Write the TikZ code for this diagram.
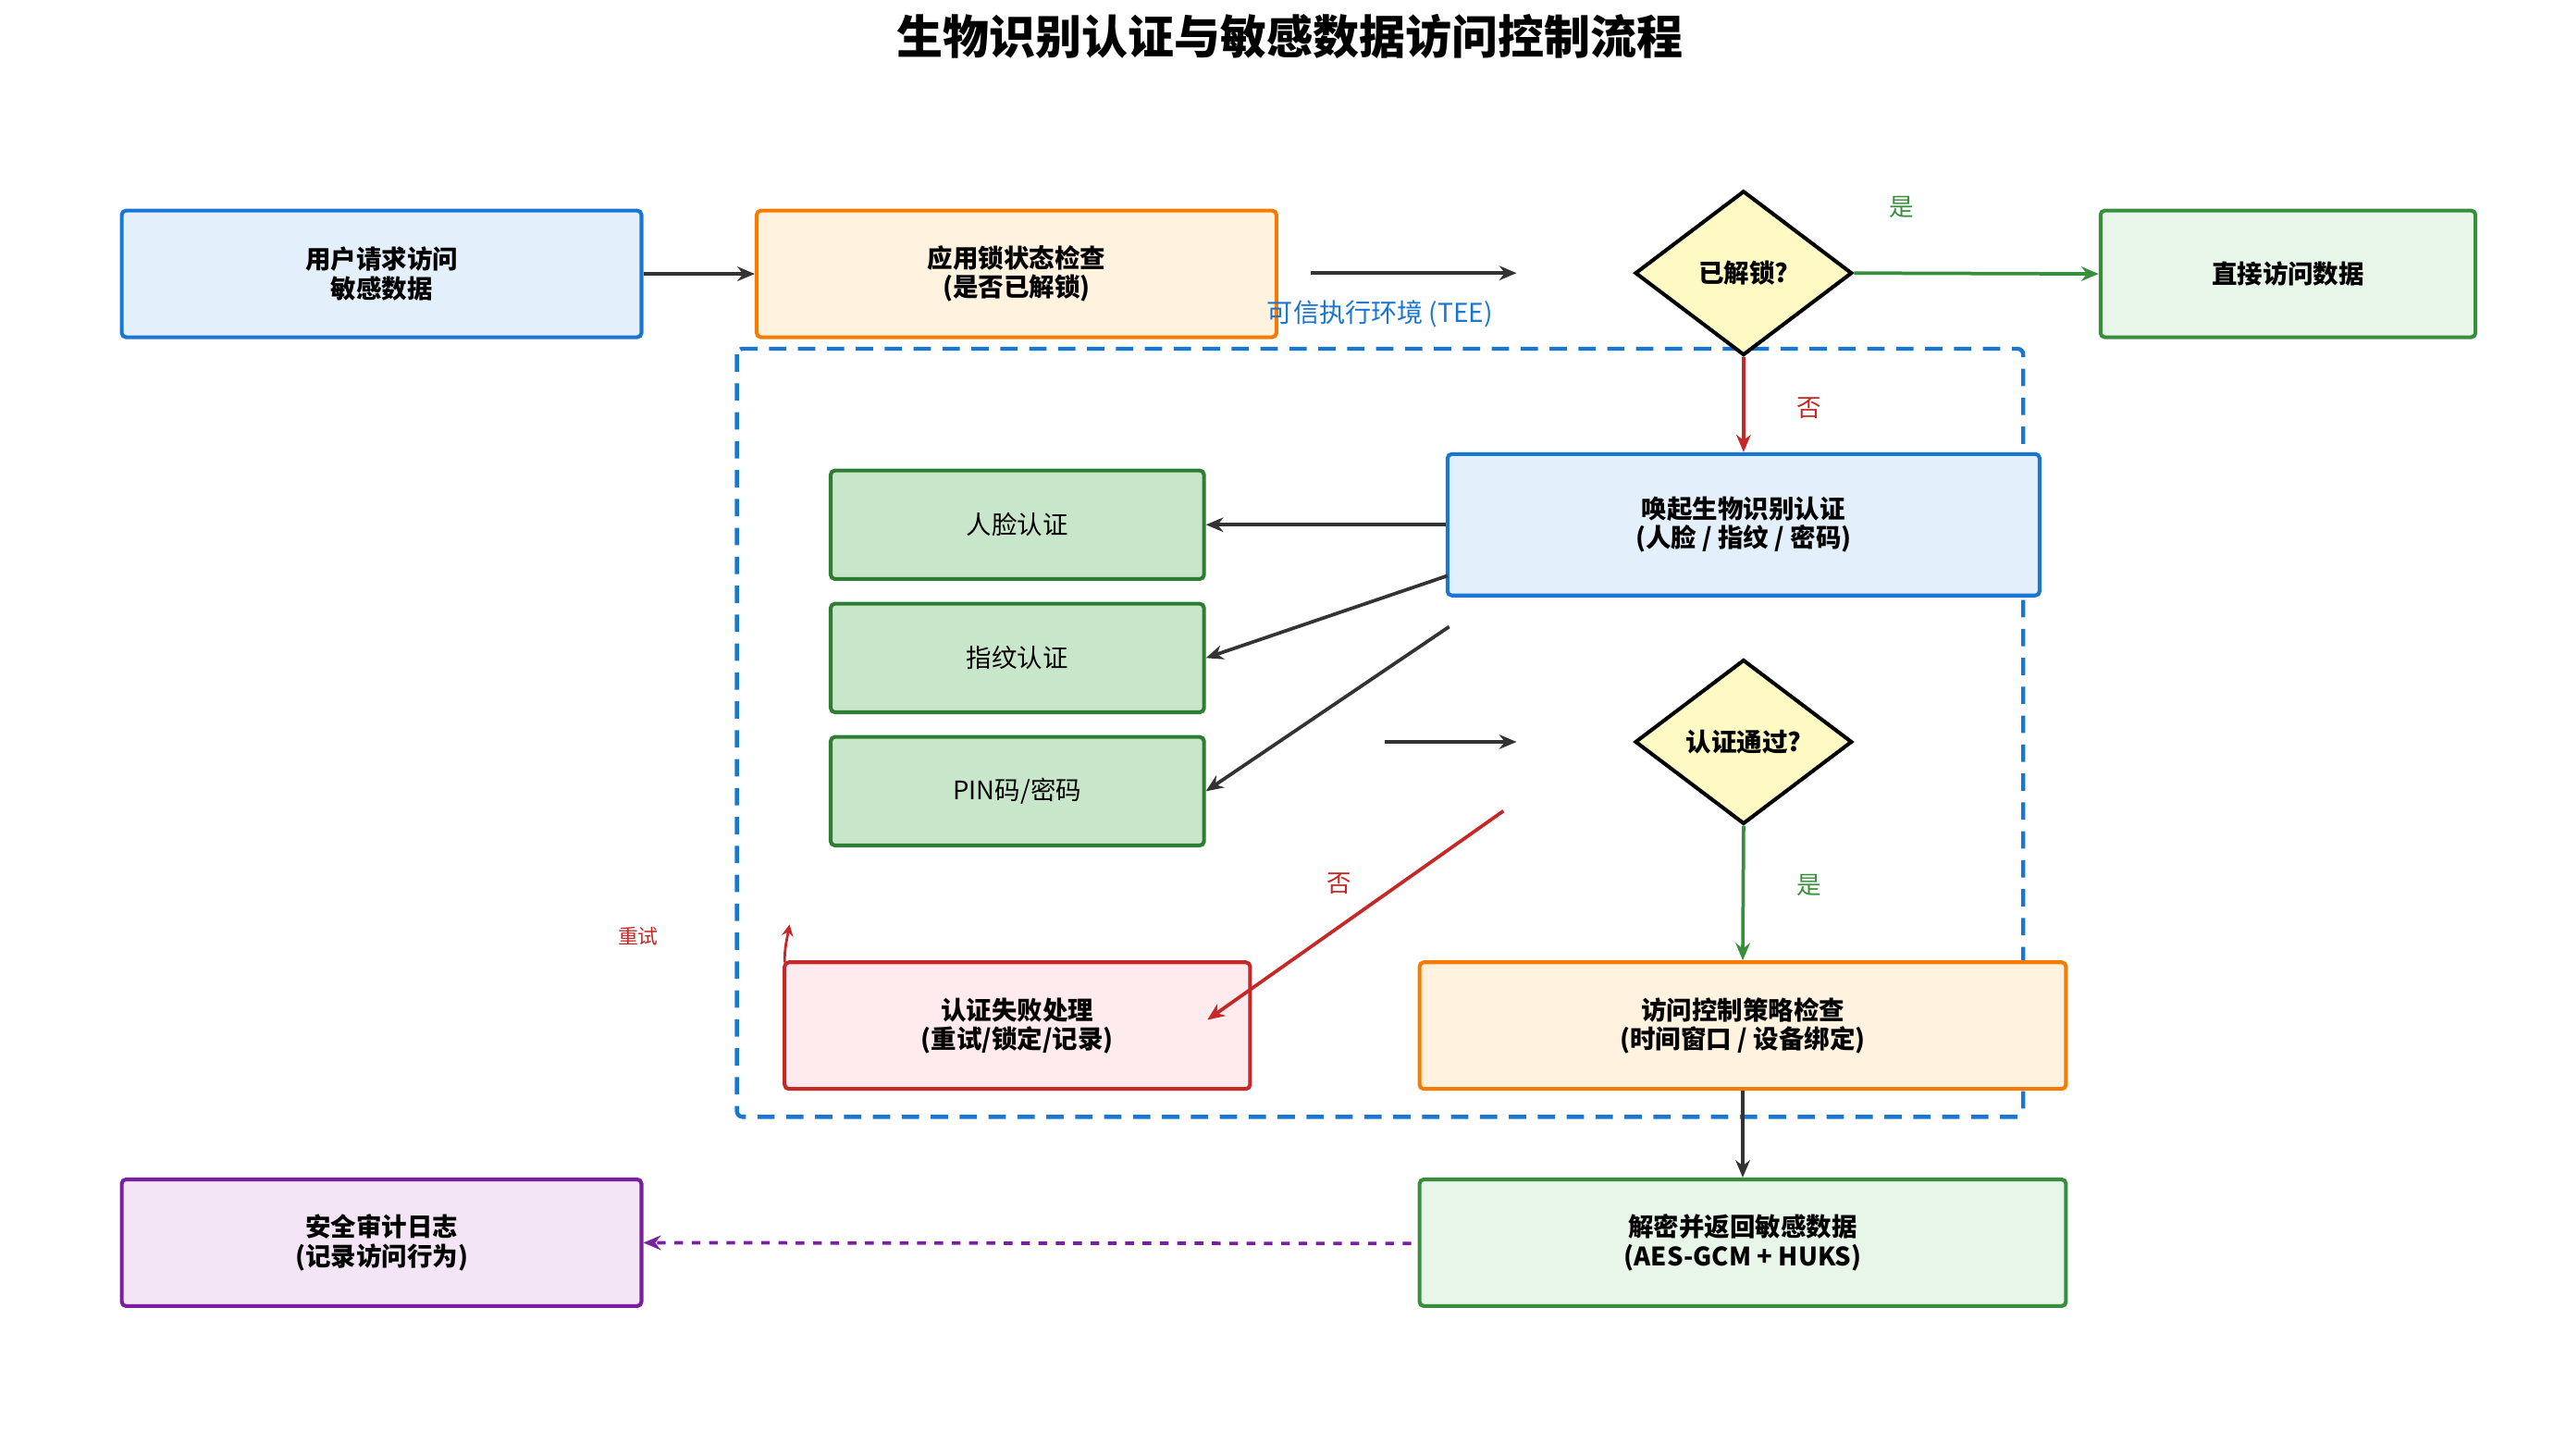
\documentclass[tikz,border=0pt]{standalone}
\usepackage{fontspec}
\setmainfont{Noto Sans CJK SC}
\usetikzlibrary{arrows.meta,shapes.geometric}
\definecolor{cblue}{HTML}{1976D2}\definecolor{fblue}{HTML}{E3F0FB}
\definecolor{corange}{HTML}{F57C00}\definecolor{forange}{HTML}{FFF3E0}
\definecolor{cgreen}{HTML}{388E3C}\definecolor{fgreen}{HTML}{E8F5E9}
\definecolor{cdg}{HTML}{2E7D32}\definecolor{fdg}{HTML}{C8E6C9}
\definecolor{cred}{HTML}{C62828}\definecolor{fred}{HTML}{FFEBEE}
\definecolor{cpur}{HTML}{7B1FA2}\definecolor{fpur}{HTML}{F3E5F5}
\definecolor{fyel}{HTML}{FFF9C4}\definecolor{cdark}{HTML}{333333}
\tikzset{
 bx/.style={draw,line width=1.3pt,rounded corners=1.5pt,align=center,font=\fontsize{8.8}{10}\selectfont\bfseries,inner sep=0pt},
 dm/.style={diamond,draw=black,fill=fyel,line width=1.3pt,aspect=1.32,minimum width=2.64cm,minimum height=2cm,inner sep=0pt,font=\fontsize{8.8}{10}\selectfont\bfseries},
 ar/.style={-{Stealth[length=6pt,width=5pt]},line width=1.2pt,draw=cdark},
 lb/.style={font=\fontsize{8.5}{10}\selectfont},
}
\begin{document}
\begin{tikzpicture}[x=0.02cm,y=-0.02cm]
\useasboundingbox (0,0) rectangle (1560,884.6);
\node[font=\fontsize{16}{18}\selectfont\bfseries] (title) at (784,22) {生物识别认证与敏感数据访问控制流程};
\def\B#1#2#3#4#5#6#7#8{\node[bx,draw=#7,fill=#8,minimum width={(#4-#2)*0.02cm},minimum height={(#5-#3)*0.02cm}] (#1) at ({(#2+#4)/2},{(#3+#5)/2}) {#6};}
\draw[cblue,line width=1.4pt,dash pattern=on 6pt off 4pt,rounded corners=2pt] (448,212) rectangle (1230,679);
\B{A}{74}{128}{390}{205}{用户请求访问\\敏感数据}{cblue}{fblue}
\B{B}{460}{128}{776}{205}{应用锁状态检查\\(是否已解锁)}{corange}{forange}
\B{C}{1277}{128}{1505}{205}{直接访问数据}{cgreen}{fgreen}
\node[dm] (D1) at (1060,166) {已解锁?};
\B{E}{880}{276}{1240}{362}{唤起生物识别认证\\(人脸 / 指纹 / 密码)}{cblue}{fblue}
\B{F1}{505}{286}{732}{352}{\mdseries 人脸认证}{cdg}{fdg}
\B{F2}{505}{367}{732}{433}{\mdseries 指纹认证}{cdg}{fdg}
\B{F3}{505}{448}{732}{514}{\mdseries PIN码/密码}{cdg}{fdg}
\node[dm] (D2) at (1060,451) {认证通过?};
\B{G}{477}{585}{760}{662}{认证失败处理\\(重试/锁定/记录)}{cred}{fred}
\B{H}{863}{585}{1256}{662}{访问控制策略检查\\(时间窗口 / 设备绑定)}{corange}{forange}
\B{I}{863}{717}{1256}{794}{解密并返回敏感数据\\(AES-GCM + HUKS)}{cgreen}{fgreen}
\B{J}{74}{717}{390}{794}{安全审计日志\\(记录访问行为)}{cpur}{fpur}
\node[text=cblue,font=\fontsize{9}{11}\selectfont] (tee) at (839,191) {可信执行环境 \textit{(TEE)}};
\coordinate (b1) at (797,166); \coordinate (b2) at (922,166);
\coordinate (e2) at (880,350); \coordinate (e3) at (881,381);
\coordinate (p1) at (842,451); \coordinate (p2) at (922,451);
\coordinate (r1) at (914,493); \coordinate (r2) at (734,620);
\coordinate (i1) at (858,756);
\coordinate (t1) at (477,585); \coordinate (t2) at (480,562);
\draw[ar] (A) -- (B);
\draw[ar] (b1) -- (b2);
\draw[ar,draw=cgreen] (D1.east) -- (C.west);
\node[lb,text=cgreen] (yes1) at (1156,126) {是};
\draw[ar,draw=cred] (D1.south) -- (E.north);
\node[lb,text=cred] (no1) at (1100,248) {否};
\draw[ar] (E.west|-F1) -- (F1.east);
\draw[ar] (e2) -- (F2.east);
\draw[ar] (e3) -- (F3.east);
\draw[ar] (p1) -- (p2);
\draw[ar,draw=cred] (r1) -- (r2);
\node[lb,text=cred] (no2) at (814,537) {否};
\draw[ar,draw=cgreen] (D2.south) -- (H.north);
\node[lb,text=cgreen] (yes2) at (1100,538) {是};
\draw[ar] (H) -- (I);
\draw[ar,draw=cpur,dashed] (i1) -- (J.east);
\draw[ar,draw=cred,line width=0.9pt,-{Stealth[length=4pt,width=4pt]}] (t1) to[out=90,in=-100] (t2);
\node[lb,text=cred,font=\fontsize{7}{8}\selectfont] (retry) at (388,569) {重试};
\end{tikzpicture}
\end{document}
